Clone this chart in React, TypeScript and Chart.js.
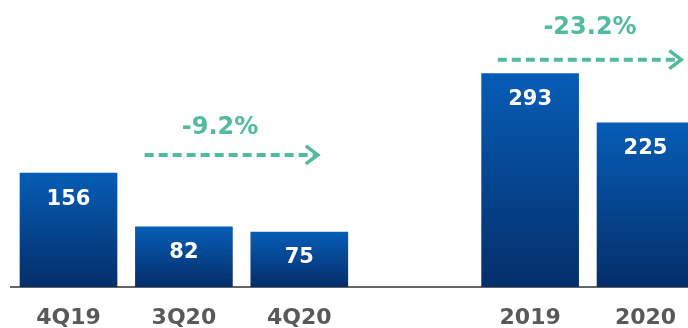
import React, { useEffect, useRef } from "react";
import { Chart, registerables } from "chart.js";

Chart.register(...registerables);

const categories = ["4Q19", "3Q20", "4Q20", "2019", "2020"];
const positions = [0, 1, 2, 4, 5];
const values = [156, 82, 75, 293, 225];
const changeLabels = ["-9.2%", "-23.2%"];
const changeFrom = [0.66, 3.72];
const changeTo = [2.16, 5.31];
const changeLevel = [181, 312];
const changeLabelX = [1.313, 4.519];
const changeLabelY = [218, 356];

const TEAL = "#52bb9f";
const FONT = "'DejaVu Sans', Verdana, sans-serif";

export default function App() {
  const ref = useRef<HTMLCanvasElement | null>(null);
  useEffect(() => {
    if (!ref.current) return;
    const labelPlugin = {
      id: "labels",
      afterDatasetsDraw(chart: any) {
        const ctx = chart.ctx;
        const xs = chart.scales.x;
        const ys = chart.scales.y;
        const meta = chart.getDatasetMeta(0);
        ctx.save();
        ctx.fillStyle = "#ffffff";
        ctx.font = `bold 21px ${FONT}`;
        ctx.textAlign = "center";
        ctx.textBaseline = "middle";
        meta.data.forEach((bar: any, i: number) => {
          ctx.fillText(String(values[i]), bar.x, bar.y + 26);
        });
        changeLabels.forEach((lab, i) => {
          const x1 = xs.getPixelForValue(changeFrom[i]);
          const x2 = xs.getPixelForValue(changeTo[i]);
          const y = ys.getPixelForValue(changeLevel[i]);
          ctx.strokeStyle = TEAL;
          ctx.lineWidth = 4;
          ctx.setLineDash([9, 5]);
          ctx.beginPath();
          ctx.moveTo(x1, y);
          ctx.lineTo(x2 - 2, y);
          ctx.stroke();
          ctx.setLineDash([]);
          ctx.lineWidth = 3.5;
          ctx.lineJoin = "miter";
          ctx.beginPath();
          ctx.moveTo(x2 - 12, y - 9);
          ctx.lineTo(x2, y);
          ctx.lineTo(x2 - 12, y + 9);
          ctx.stroke();
          ctx.fillStyle = TEAL;
          ctx.font = `bold 24px ${FONT}`;
          ctx.textAlign = "center";
          ctx.textBaseline = "middle";
          ctx.fillText(lab, xs.getPixelForValue(changeLabelX[i]), ys.getPixelForValue(changeLabelY[i]));
        });
        ctx.restore();
      },
    };
    const chart = new Chart(ref.current, {
      type: "bar",
      data: {
        datasets: [
          {
            data: positions.map((p, i) => ({ x: p, y: values[i] })),
            barThickness: 97,
            clip: false,
            backgroundColor: (c: any) => {
              const area = c.chart.chartArea;
              const ys = c.chart.scales.y;
              if (!area || !ys || c.raw == null) return "#054a9a";
              const top = ys.getPixelForValue(c.raw.y);
              const g = c.chart.ctx.createLinearGradient(0, top, 0, area.bottom);
              g.addColorStop(0, "#065db6");
              g.addColorStop(1, "#052e6a");
              return g;
            },
            borderWidth: 0,
          } as any,
        ],
      },
      options: {
        animation: false,
        responsive: false,
        maintainAspectRatio: false,
        layout: { padding: { left: 10.8, right: 0, top: 0, bottom: 0 } },
        plugins: { legend: { display: false }, tooltip: { enabled: false } },
        scales: {
          x: {
            type: "linear",
            offset: false,
            min: -0.5,
            max: 5.368,
            grid: { display: false, drawTicks: false },
            border: { display: true, color: "#666666", width: 2 },
            afterBuildTicks: (scale: any) => {
              scale.ticks = positions.map((v) => ({ value: v }));
            },
            afterFit: (scale: any) => {
              scale.paddingLeft = 0;
              scale.paddingRight = 0;
            },
            ticks: {
              autoSkip: false,
              maxRotation: 0,
              padding: 18,
              color: "#595959",
              font: { family: FONT, weight: "bold", size: 22 },
              callback: (v: any) => {
                const idx = positions.indexOf(Number(v));
                return idx >= 0 ? categories[idx] : "";
              },
            },
          },
          y: {
            display: false,
            min: 0,
            max: 394,
          },
        },
      } as any,
      plugins: [labelPlugin],
    });
    return () => chart.destroy();
  }, []);
  return (
    <div style={{ position: "fixed", left: 0, top: 0, width: 688, height: 328, overflow: "hidden", background: "#fff" }}>
      <canvas ref={ref} width={688} height={349} style={{ width: 688, height: 349, display: "block" }} />
    </div>
  );
}
